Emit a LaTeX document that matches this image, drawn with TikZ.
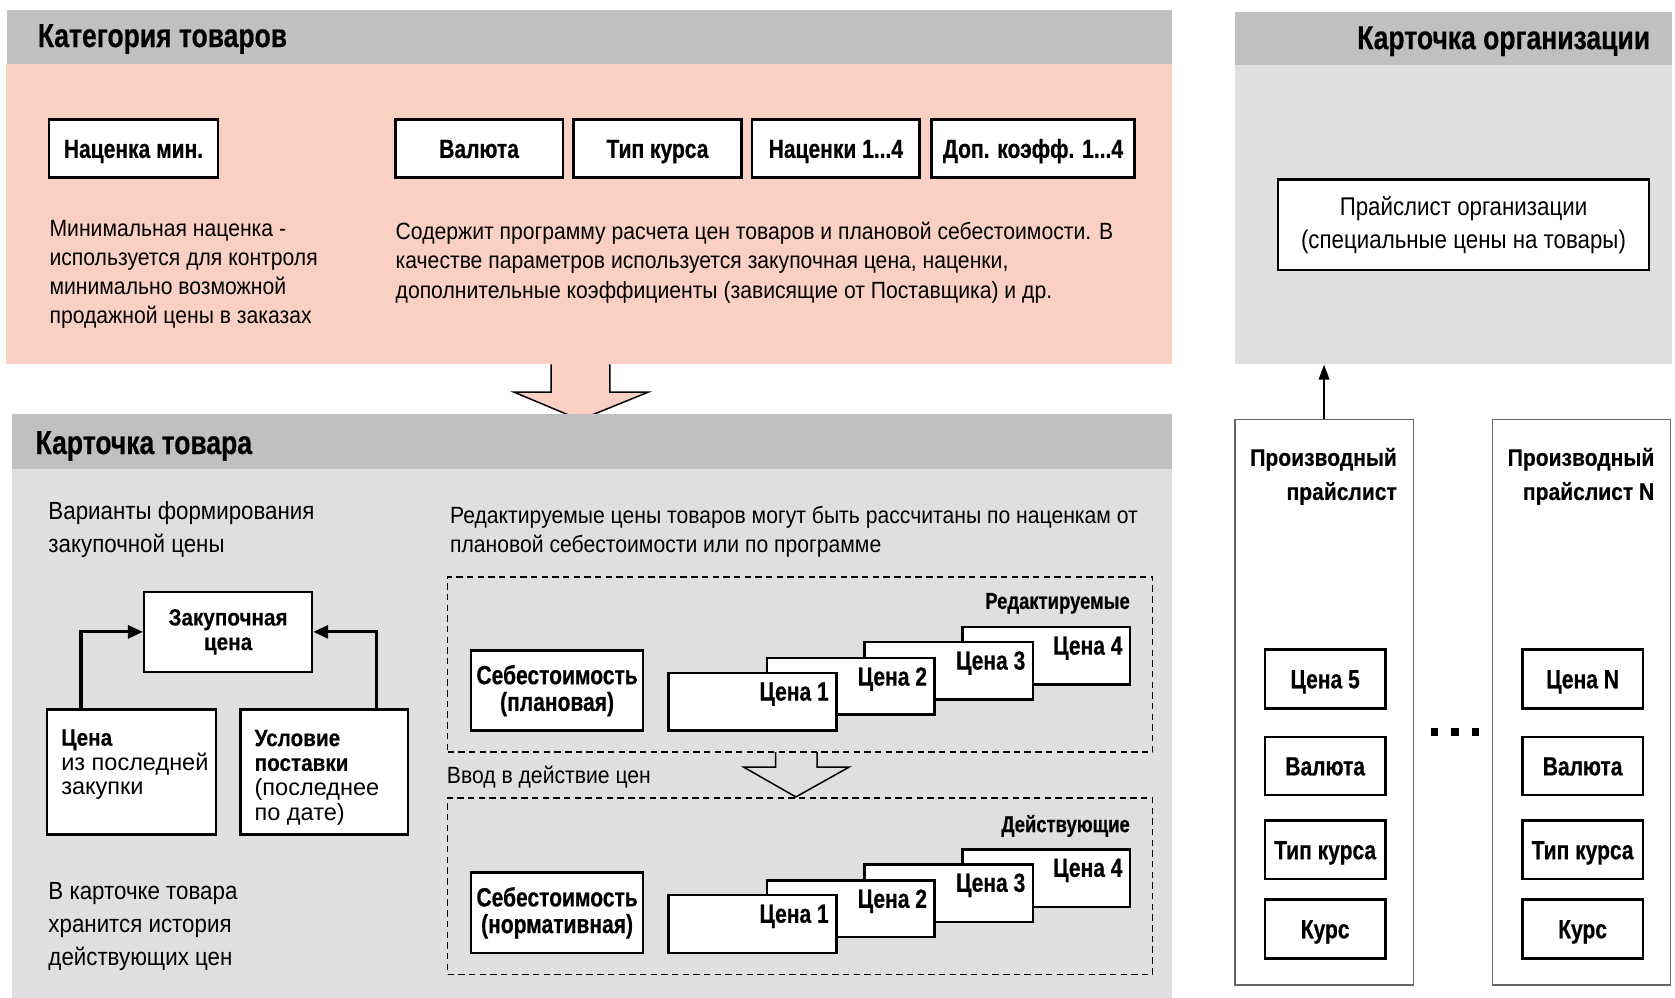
\documentclass[tikz,border=0pt]{standalone}
\usepackage{fontspec}
\setmainfont{Liberation Sans}
\newfontfamily\rgf[FakeStretch=0.9]{Liberation Sans}
\newfontfamily\rgp[FakeStretch=0.87]{Liberation Sans}
\newfontfamily\rgw{Liberation Sans}
\newfontfamily\bdf[FakeStretch=0.8,FakeBold=0.5]{Liberation Sans Bold}
\newfontfamily\bdm[FakeStretch=0.88,FakeBold=0.3]{Liberation Sans Bold}
\usetikzlibrary{fit,arrows.meta,calc}
\definecolor{pinkbg}{HTML}{F9D0C3}
\definecolor{hdrgrey}{HTML}{C0C0C0}
\definecolor{bodygrey}{HTML}{DFDFDF}
\begin{document}
\begin{tikzpicture}[x=0.5pt,y=-0.5pt,
  R/.style n args={4}{minimum width={(#3-(#1))*0.5pt},minimum height={(#4-(#2))*0.5pt},at={({(#1+#3)/2},{(#2+#4)/2})}},
  box/.style={draw=black,line width=1.2pt,fill=white,inner sep=0pt,align=center,font=\bdf\fontsize{12.3}{12.5}\selectfont},
  one/.style={box,text height=8.8pt,text depth=0pt},
  sbox/.style={box,font=\bdm\fontsize{11}{11.5}\selectfont},
  hdr/.style={font=\bdf\fontsize{15.5}{18}\selectfont,inner sep=0pt},
  txt/.style={font=\rgf\fontsize{11}{13.65}\selectfont,inner sep=0pt,align=left},
  txtb/.style={font=\rgf\fontsize{11.6}{15.5}\selectfont,inner sep=0pt,align=left},
  lbl/.style={font=\bdf\fontsize{12.3}{12.5}\selectfont,inner sep=0pt},
  tag/.style={font=\bdf\fontsize{10.8}{12}\selectfont,inner sep=0pt},
  plh/.style={font=\bdm\fontsize{11.2}{16}\selectfont,inner sep=0pt,align=right},
  panel/.style={inner sep=0pt,draw=none},
  arr/.style={line width=1.5pt,-{Triangle[length=7pt,width=6pt]}},
  dbox/.style={draw=black,line width=0.7pt,dash pattern=on 3pt off 2pt,inner sep=0pt},
]
\useasboundingbox (0,0) rectangle (1568,934);
\fill[white] (0,0) rectangle (1568,934);

% ---------- top panel ----------
\node[panel,fill=pinkbg,fit={(6,60)(1097,341)}] (catbody) {};
\node[panel,fill=hdrgrey,fit={(7,9)(1097,60)}] (cathdr) {};
\node[hdr,anchor=base west] (cattitle) at (35,44) {Категория товаров};

\node[one,R={46}{112}{204}{166}] (nmin) {Наценка мин.};
\node[one,R={370}{112}{527}{166}] (val) {Валюта};
\node[one,R={537}{112}{694}{166}] (tip) {Тип курса};
\node[one,R={704}{112}{861}{166}] (nac) {Наценки 1...4};
\node[one,R={872}{112}{1062}{166}] (dop) {Доп. коэфф. 1...4};

\node[txt,anchor=base west] (mintxt) at (46,303) {Минимальная наценка -\\используется для контроля\\минимально возможной\\продажной цены в заказах};
\node[txt,anchor=base west] (progtxt) at (370,279) {Содержит программу расчета цен товаров и плановой себестоимости. В\\качестве параметров используется закупочная цена, наценки,\\дополнительные коэффициенты (зависящие от Поставщика) и др.};

% big arrow
\fill[pinkbg] (516,340) -- (516,367) -- (481,367) -- (543,393) -- (607,367) -- (571,367) -- (571,340) -- cycle;
\draw[line width=0.7pt] (516,341) -- (516,367) -- (481,367) -- (543,393) -- (607,367) -- (571,367) -- (571,341);

% ---------- middle panel ----------
\node[panel,fill=bodygrey,fit={(11,439)(1097,934)}] (tovbody) {};
\node[panel,fill=hdrgrey,fit={(11,388)(1097,439)}] (tovhdr) {};
\node[hdr,anchor=base west] (tovtitle) at (33,425) {Карточка товара};

\node[txtb,anchor=base west] (vartxt) at (45,517) {Варианты формирования\\закупочной цены};
\node[sbox,R={135}{554}{292}{629}] (zak) {Закупочная\\цена};
\node[box,R={44}{664}{202}{781}] (cena) {};
\node[box,R={225}{664}{382}{781}] (usl) {};
\node[inner sep=0pt,anchor=base west,align=left,font=\rgw\fontsize{11}{11.5}\selectfont] (cenatxt) at (57,744) {{\bdm Цена}\\из последней\\закупки};
\node[inner sep=0pt,anchor=base west,align=left,font=\rgw\fontsize{11}{11.6}\selectfont] (usltxt) at (238,768) {{\bdm Условие}\\{\bdm поставки}\\(последнее\\по дате)};
\draw[arr] ([shift={(33,0)}]cena.north west) |- (zak.west);
\draw[arr] ([shift={(-31,0)}]usl.north east) |- (zak.east);
\node[txtb,anchor=base west] (histtxt) at (45,904) {В карточке товара\\хранится история\\действующих цен};

\node[txt,anchor=base west] (redtxt) at (421,517) {Редактируемые цены товаров могут быть рассчитаны по наценкам от\\плановой себестоимости или по программе};

% editable group
\node[dbox,fit={(419,540)(1079,704)}] (edit) {};
\node[tag,anchor=base east] (edittag) at (1058,570) {Редактируемые};
\node[box,R={441}{609}{602}{684}] (sebp) {Себестоимость\\(плановая)};
\node[box,R={901}{587}{1058}{641}] (e4) {};
\node[box,R={809}{601}{967}{655}] (e3) {};
\node[box,R={718}{616}{875}{669}] (e2) {};
\node[box,R={626}{630}{783}{684}] (e1) {};
\node[lbl,anchor=base east] (e1t) at ([shift={(-8,27)}]e1.north east) {Цена 1};
\node[lbl,anchor=base east] (e2t) at ([shift={(-8,27)}]e2.north east) {Цена 2};
\node[lbl,anchor=base east] (e3t) at ([shift={(-8,27)}]e3.north east) {Цена 3};
\node[lbl,anchor=base east] (e4t) at ([shift={(-8,27)}]e4.north east) {Цена 4};

\node[txt,anchor=base west] (vvod) at (418,733) {Ввод в действие цен};
\draw[line width=0.7pt] (726,704) -- (726,718) -- (696,718) -- (745,746) -- (795,718) -- (765,718) -- (765,704);

% active group
\node[dbox,fit={(419,747)(1079,912)}] (act) {};
\node[tag,anchor=base east] (acttag) at (1058,779) {Действующие};
\node[box,R={441}{817}{602}{892}] (sebn) {Себестоимость\\(нормативная)};
\node[box,R={901}{795}{1058}{849}] (a4) {};
\node[box,R={809}{809}{967}{863}] (a3) {};
\node[box,R={718}{824}{875}{877}] (a2) {};
\node[box,R={626}{838}{783}{892}] (a1) {};
\node[lbl,anchor=base east] (a1t) at ([shift={(-8,27)}]a1.north east) {Цена 1};
\node[lbl,anchor=base east] (a2t) at ([shift={(-8,27)}]a2.north east) {Цена 2};
\node[lbl,anchor=base east] (a3t) at ([shift={(-8,27)}]a3.north east) {Цена 3};
\node[lbl,anchor=base east] (a4t) at ([shift={(-8,27)}]a4.north east) {Цена 4};

% ---------- right side ----------
\node[panel,fill=bodygrey,fit={(1156,61)(1565,341)}] (orgbody) {};
\node[panel,fill=hdrgrey,fit={(1156,11)(1565,61)}] (orghdr) {};
\node[hdr,anchor=base east] (orgtitle) at (1545,46) {Карточка организации};
\node[box,line width=1pt,font=\rgp\fontsize{12}{15.5}\selectfont,R={1196}{168}{1544}{253}] (orgpl) {Прайслист организации\\(специальные цены на товары)};

\node[draw=black!60,line width=0.6pt,fill=white,inner sep=0pt,R={1156}{393}{1323}{922}] (pl1) {};
\node[draw=black!60,line width=0.6pt,fill=white,inner sep=0pt,R={1397}{393}{1564}{922}] (pln) {};
\draw[line width=0.8pt,-{Triangle[length=7pt,width=5pt]}] (pl1.north) -- (pl1.north |- orgbody.south);

\node[plh,anchor=base east] (pl1t) at (1308,468) {Производный\\прайслист};
\node[plh,anchor=base east] (plnt) at (1549,468) {Производный\\прайслист N};

\node[one,R={1184}{608}{1297}{663}] (p1c) {Цена 5};
\node[one,R={1184}{690}{1297}{744}] (p1v) {Валюта};
\node[one,R={1184}{768}{1297}{823}] (p1t) {Тип курса};
\node[one,R={1184}{842}{1297}{897}] (p1k) {Курс};
\node[one,R={1425}{608}{1538}{663}] (pnc) {Цена N};
\node[one,R={1425}{690}{1538}{744}] (pnv) {Валюта};
\node[one,R={1425}{768}{1538}{823}] (pnt) {Тип курса};
\node[one,R={1425}{842}{1538}{897}] (pnk) {Курс};

\foreach \x in {1343,1362,1381} \fill (\x-3.5,681.5) rectangle (\x+3.5,688.5);
\end{tikzpicture}
\end{document}
